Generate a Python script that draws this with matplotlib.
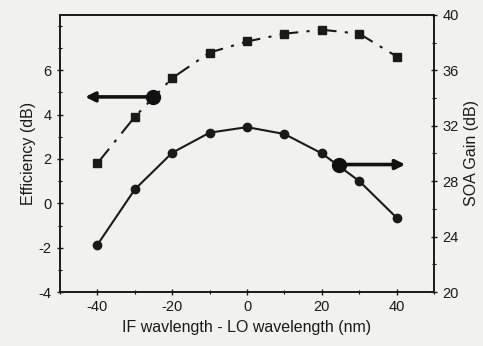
import matplotlib.pyplot as plt
from matplotlib.ticker import MultipleLocator

plt.rcParams['font.family'] = ['Liberation Sans', 'DejaVu Sans']
plt.rcParams['axes.unicode_minus'] = False

# data
wl = [-40, -30, -20, -10, 0, 10, 20, 30, 40]
efficiency = [1.8, 3.9, 5.65, 6.8, 7.3, 7.65, 7.83, 7.65, 6.62]
soa_gain = [23.4, 27.4, 30.05, 31.5, 31.9, 31.4, 30.0, 28.0, 25.35]

bg = '#f1f1ef'
fig = plt.figure(figsize=(4.83, 3.46), dpi=100, facecolor=bg)
ax = fig.add_axes([0.124, 0.156, 0.775, 0.801], facecolor=bg)
ax2 = ax.twinx()

ax.plot(wl, efficiency, color='#1a1a1a', ls=(0, (9, 4, 1.5, 4)), lw=1.5,
        marker='s', ms=6)
ax2.plot(wl, soa_gain, color='#1a1a1a', ls='-', lw=1.5, marker='o', ms=6)

# arrows showing which axis each curve belongs to
ax.plot([-25], [4.8], 'o', color='#111111', ms=10)
ax.annotate('', xy=(-44, 4.8), xytext=(-25, 4.8),
            arrowprops=dict(arrowstyle='-|>', color='#111111', lw=2.6, mutation_scale=14))
ax2.plot([24.5], [29.2], 'o', color='#111111', ms=10)
ax2.annotate('', xy=(43, 29.2), xytext=(24.5, 29.2),
             arrowprops=dict(arrowstyle='-|>', color='#111111', lw=2.6, mutation_scale=14))

ax.set_xlim(-50, 50)
ax.set_ylim(-4, 8.5)
ax2.set_ylim(20, 40)

ax.set_xticks([-40, -20, 0, 20, 40])
ax.xaxis.set_minor_locator(MultipleLocator(10))
ax.set_yticks([-4, -2, 0, 2, 4, 6])
ax.yaxis.set_minor_locator(MultipleLocator(1))
ax2.set_yticks([20, 24, 28, 32, 36, 40])
ax2.yaxis.set_minor_locator(MultipleLocator(2))

for a in (ax, ax2):
    a.tick_params(which='major', direction='inout', length=5, width=1, labelsize=10.5,
                  colors='#1a1a1a')
    a.tick_params(which='minor', direction='inout', length=3, width=0.8)
    for s in a.spines.values():
        s.set_linewidth(1.2)
        s.set_color('#1a1a1a')

ax.set_xlabel('IF wavlength - LO wavelength (nm)', fontsize=11.5, labelpad=4, color='#1a1a1a')
ax.set_ylabel('Efficiency (dB)', fontsize=11.5, labelpad=2, color='#1a1a1a')
ax2.set_ylabel('SOA Gain (dB)', fontsize=11.5, labelpad=4, color='#1a1a1a')

fig.savefig('out.png', dpi=100, facecolor=bg)
